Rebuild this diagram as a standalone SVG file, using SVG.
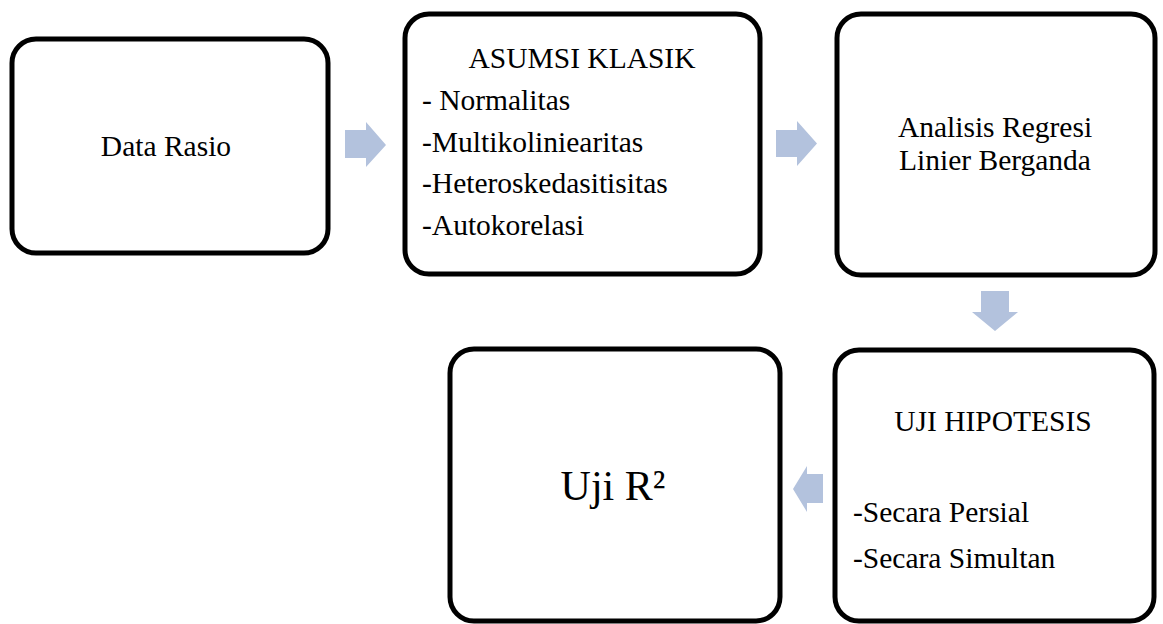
<svg xmlns="http://www.w3.org/2000/svg" width="1163" height="624" viewBox="0 0 1163 624">
<style>
.box{fill:#fff;stroke:#000;stroke-width:5}
.t{font-family:"Liberation Serif","Times New Roman",serif;font-size:29.5px;fill:#000}
.c{text-anchor:middle}
.arr{fill:#b3c2dd}
</style>
<rect width="1163" height="624" fill="#fff"/>
<g id="connectors">
<polygon class="arr" points="345,130 366,130 366,122 386,145 366,167 366,158 345,158"/>
<polygon class="arr" points="776,130 797,130 797,121 817,143.5 797,166 797,157 776,157"/>
<polygon class="arr" points="981,291 1009,291 1009,312 1018,312 995,331 972,312 981,312"/>
<polygon class="arr" points="823,474 807,474 807,466 793,489 807,512 807,503 823,503"/>
</g>
<g id="node-data-rasio">
<rect class="box" x="12" y="39" width="316" height="214" rx="24"/>
<text class="t c" x="166" y="156">Data Rasio</text>
</g>
<g id="node-asumsi-klasik">
<rect class="box" x="405" y="14" width="355" height="260" rx="24"/>
<text class="t c" x="582" y="68">ASUMSI KLASIK</text>
<text class="t" x="422" y="110">- Normalitas</text>
<text class="t" x="422" y="152">-Multikoliniearitas</text>
<text class="t" x="422" y="193">-Heteroskedasitisitas</text>
<text class="t" x="422" y="235">-Autokorelasi</text>
</g>
<g id="node-analisis-regresi">
<rect class="box" x="837" y="14" width="318" height="261" rx="24"/>
<text class="t c" x="995" y="137">Analisis Regresi</text>
<text class="t c" x="995" y="170">Linier Berganda</text>
</g>
<g id="node-uji-hipotesis">
<rect class="box" x="835" y="350" width="319" height="271" rx="24"/>
<text class="t c" x="993" y="431">UJI HIPOTESIS</text>
<text class="t" x="853" y="522">-Secara Persial</text>
<text class="t" x="853" y="568">-Secara Simultan</text>
</g>
<g id="node-uji-r2">
<rect class="box" x="450" y="349" width="330" height="272" rx="24"/>
<text class="t c" x="613" y="500" style="font-size:42px">Uji R²</text>
</g>
</svg>
